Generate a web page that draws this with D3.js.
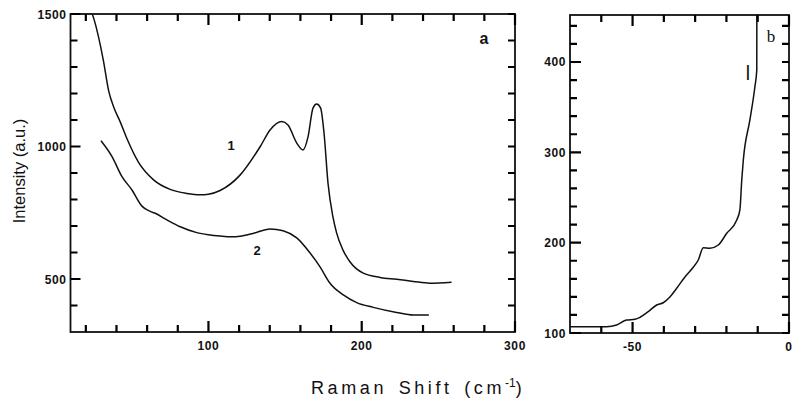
<!DOCTYPE html>
<html>
<head>
<meta charset="utf-8">
<script src="https://cdn.jsdelivr.net/npm/d3@7"></script>
<style>
  body { margin: 0; background: #fff; }
  svg { display: block; }
  text { font-family: "Liberation Sans", Arial, sans-serif; fill: #111; }
</style>
</head>
<body>
<svg id="chart" width="794" height="405"></svg>
<script>
// panel a, spectrum 1
const shiftA1 = [24.2, 25.5, 31.4, 34.9, 38.1, 42.5, 46.8, 54.4, 64.2, 75, 85.9, 94.6, 100, 107.6, 120.6, 133.7, 140.2, 147.8, 151.9, 157.6, 161.7, 165, 168.2, 170.6, 173.2, 175.4, 178, 181.2, 183.6, 187.8, 192.3, 201, 211.9, 222.7, 233.6, 244.4, 258.6];
const intensA1 = [1500, 1477, 1326, 1210, 1150, 1092, 1030, 940, 874, 838, 823, 818, 820, 834, 892, 999, 1062, 1094, 1081, 1013, 987, 1037, 1145, 1160, 1145, 1051, 862, 735, 674, 609, 565, 522, 506, 499, 491, 484, 488];
// panel a, spectrum 2
const shiftA2 = [29.9, 37.1, 43.6, 50.1, 56.6, 62, 65.3, 72.9, 81.6, 92.4, 100, 107.6, 115, 120.6, 129.1, 140.2, 148.7, 157.6, 166.3, 172.8, 179.3, 188, 196.7, 207.5, 222.7, 233.6, 243.8];
const intensA2 = [1022, 962, 886, 836, 775, 755, 748, 723, 697, 675, 667, 662, 659, 661, 672, 689, 682, 655, 598, 546, 484, 440, 411, 393, 374, 364, 364];
// panel b, anti-Stokes side
const shiftB = [-70, -59.9, -58.3, -55.1, -51.9, -49.2, -47.6, -45, -42.3, -40.2, -38, -35.9, -33.2, -30.6, -29, -27.4, -25.3, -22.6, -19.9, -16.7, -15.7, -15.1, -14.6, -12.5, -10.9, -10.3, -10.28];
const intensB = [107, 107, 107, 108.9, 114.4, 115.2, 117.4, 123.6, 131, 133.5, 140.2, 149.5, 162.3, 172.7, 180.8, 194.4, 193.8, 197.4, 210.4, 225.1, 236.2, 269.4, 291.5, 335.8, 372.6, 391.1, 452];

// ticks
const aXMajor = [100, 200, 300];
const aXMinor = [20, 40, 60, 80, 120, 140, 160, 180, 220, 240, 260, 280];
const aYMajor = [500, 1000, 1500];
const aYMinor = [400, 600, 700, 800, 900, 1100, 1200, 1300, 1400];
const bXMajor = [-50, 0];
const bXMinor = [-60, -40, -30, -20, -10];
const bYMajor = [100, 200, 300, 400];
const bYMinor = [120, 140, 160, 180, 220, 240, 260, 280, 320, 340, 360, 380, 420, 440];

const svg = d3.select("#chart");

function zip(xs, ys) { return xs.map((x, i) => [x, ys[i]]); }

function tickLabels(g, vals, f, anchor) {
    g.selectAll(null)
        .data(vals)
        .enter().append("text")
        .attr("x", d => f(d)[0])
        .attr("y", d => f(d)[1])
        .attr("text-anchor", anchor)
        .attr("font-size", 12)
        .attr("font-weight", "bold")
        .attr("letter-spacing", "0.6px")
        .text(d => d);
}

function drawPanel(p) {
    let g = svg.append("g");
    let x = d3.scaleLinear().domain(p.xDomain).range(p.xRange);
    let y = d3.scaleLinear().domain(p.yDomain).range(p.yRange);
    let x0 = p.xRange[0], x1 = p.xRange[1];
    let y0 = p.yRange[0], y1 = p.yRange[1];

    let clipId = "clip-" + p.name;
    svg.append("clipPath").attr("id", clipId).append("rect")
        .attr("x", x0).attr("y", y1)
        .attr("width", x1 - x0).attr("height", y0 - y1);

    tickLabels(g, p.xMajor, d => [x(d), y0 + 18], "middle");
    tickLabels(g, p.yMajor, d => [x0 - 4, y(d) + 4.5], "end");

    g.append("rect")
        .attr("x", x0).attr("y", y1)
        .attr("width", x1 - x0).attr("height", y0 - y1)
        .attr("fill", "none").attr("stroke", "#111").attr("stroke-width", 1.8);

    let line = d3.line()
        .x(d => x(d[0]))
        .y(d => y(d[1]))
        .curve(d3.curveMonotoneX);

    p.series.forEach(s => {
        g.append("path")
            .datum(s)
            .attr("clip-path", `url(#${clipId})`)
            .attr("d", line)
            .attr("fill", "none")
            .attr("stroke", "#111")
            .attr("stroke-width", 1.5);
    });

    // inward ticks on all four sides, one path
    let tp = d3.path();
    p.xMajor.forEach(v => {
        tp.moveTo(x(v), y0); tp.lineTo(x(v), y0 - p.xMajLen);
        tp.moveTo(x(v), y1); tp.lineTo(x(v), y1 + p.xMajLen);
    });
    p.xMinor.forEach(v => {
        tp.moveTo(x(v), y0); tp.lineTo(x(v), y0 - p.xMinLen);
        tp.moveTo(x(v), y1); tp.lineTo(x(v), y1 + p.xMinLen);
    });
    p.yMajor.forEach(v => {
        tp.moveTo(x0, y(v)); tp.lineTo(x0 + p.yMajLen, y(v));
        tp.moveTo(x1, y(v)); tp.lineTo(x1 - p.yMinLen, y(v));
    });
    p.yMinor.forEach(v => {
        tp.moveTo(x0, y(v)); tp.lineTo(x0 + p.yMinLen, y(v));
        tp.moveTo(x1, y(v)); tp.lineTo(x1 - p.yMinLen, y(v));
    });
    g.append("path")
        .attr("d", tp.toString())
        .attr("fill", "none")
        .attr("stroke", "#000")
        .attr("stroke-width", 2.2);
}

drawPanel({
    name: "a",
    xDomain: [10, 300], xRange: [70.5, 515],
    yDomain: [300, 1500], yRange: [332, 14],
    xMajor: aXMajor, xMinor: aXMinor, yMajor: aYMajor, yMinor: aYMinor,
    xMajLen: 11, xMinLen: 7, yMajLen: 10, yMinLen: 7,
    series: [zip(shiftA1, intensA1), zip(shiftA2, intensA2)]
});

drawPanel({
    name: "b",
    xDomain: [-70, 0], xRange: [570, 789],
    yDomain: [100, 452], yRange: [333, 15],
    xMajor: bXMajor, xMinor: bXMinor, yMajor: bYMajor, yMinor: bYMinor,
    xMajLen: 11, xMinLen: 7, yMajLen: 11, yMinLen: 7,
    series: [zip(shiftB, intensB)]
});

// panel letters and curve numbers
svg.append("text").attr("x", 484).attr("y", 44).attr("text-anchor", "middle")
    .attr("font-size", 16).attr("font-weight", "bold").text("a");
svg.append("text").attr("x", 771).attr("y", 42).attr("text-anchor", "middle")
    .attr("font-size", 17).style("font-family", '"Liberation Serif", serif').text("b");
svg.append("text").attr("x", 231).attr("y", 150).attr("text-anchor", "middle")
    .attr("font-size", 13).attr("font-weight", "bold").text("1");
svg.append("text").attr("x", 257).attr("y", 255).attr("text-anchor", "middle")
    .attr("font-size", 13).attr("font-weight", "bold").text("2");
svg.append("text").attr("x", 748).attr("y", 80).attr("text-anchor", "middle")
    .attr("font-size", 19).style("font-family", '"DejaVu Sans", sans-serif')
    .text("l");

// axis titles
svg.append("text")
    .attr("transform", "translate(25,171) rotate(-90)")
    .attr("text-anchor", "middle")
    .attr("font-size", 16.5)
    .text("Intensity (a.u.)");

let xt = svg.append("text")
    .attr("x", 311).attr("y", 394)
    .attr("font-size", 18)
    .attr("letter-spacing", "3.6px")
    .attr("word-spacing", "3px");
xt.append("tspan").text("Raman Shift (cm");
xt.append("tspan").attr("dy", -7).attr("font-size", 12).attr("letter-spacing", "0px").text("-1");
xt.append("tspan").attr("dy", 7).text(")");
</script>
</body>
</html>
